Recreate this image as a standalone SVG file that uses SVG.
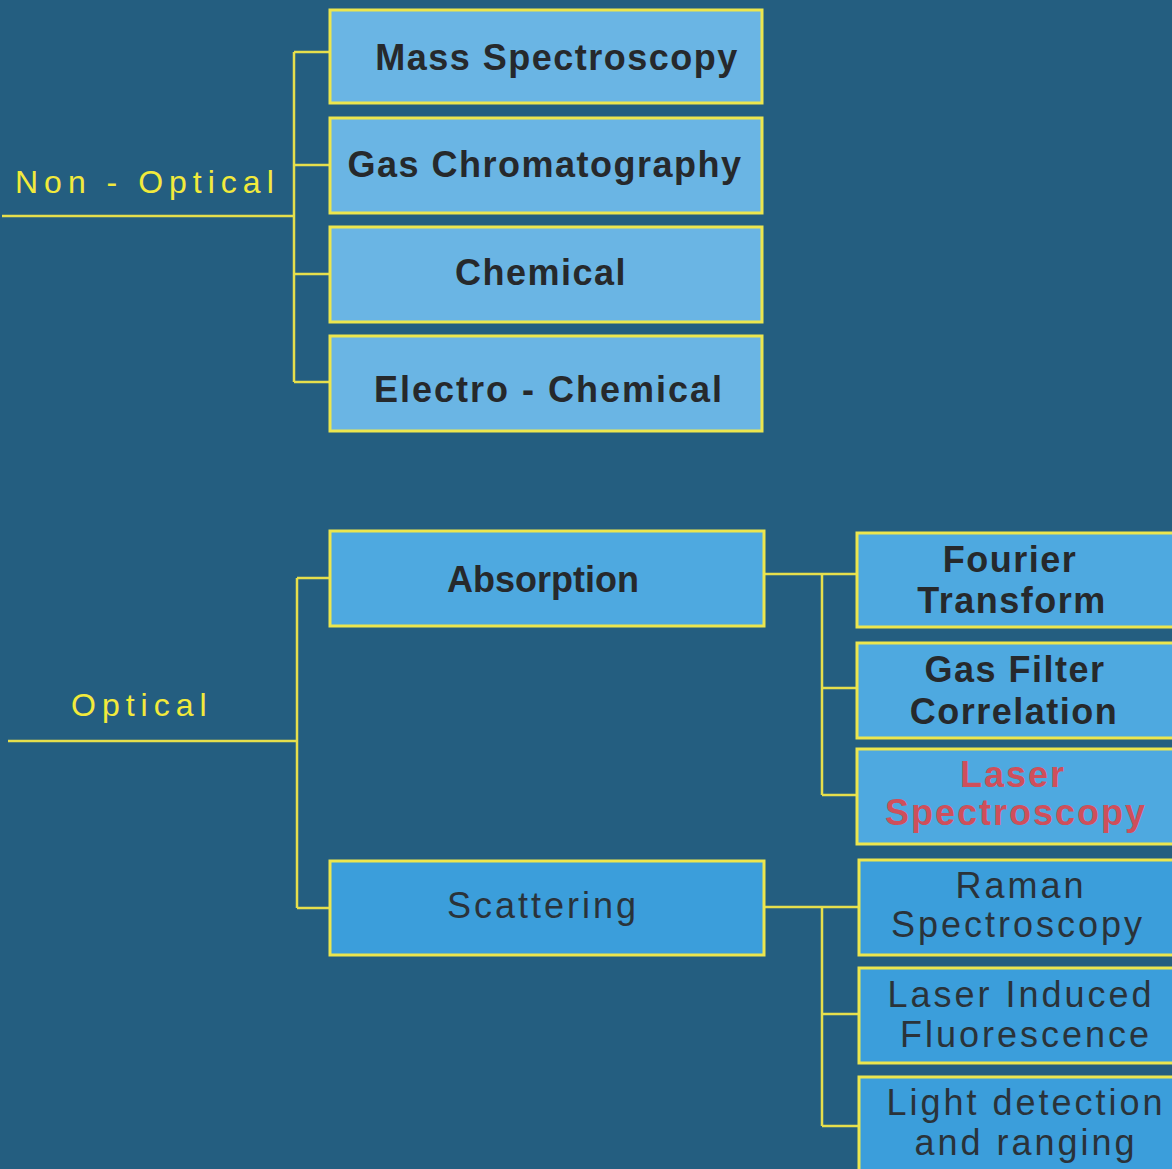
<svg xmlns="http://www.w3.org/2000/svg" width="1172" height="1169" viewBox="0 0 1172 1169">
<style>
.bg{fill:#245e80}
.box{stroke:#ece64e;stroke-width:3}
.light{fill:#6ab5e4}
.mid{fill:#4ea9e0}
.deep{fill:#3b9edb}
.con{fill:none;stroke:#e6df4c;stroke-width:2.5}
.lbl{font-family:"Liberation Sans",Arial,sans-serif;font-size:32px;fill:#f2ea3c;letter-spacing:6px}
.tb{font-family:"Liberation Sans",Arial,sans-serif;font-size:36px;font-weight:bold;fill:#26292c;text-anchor:middle}
.tr{font-family:"Liberation Sans",Arial,sans-serif;font-size:36px;fill:#2a333a;text-anchor:middle;letter-spacing:3px}
.red{fill:#cf4f5b}
</style>
<rect class="bg" x="0" y="0" width="1172" height="1169"/>
<g id="connectors">
<path class="con" d="M2 216H294M294 52V382M294 52H330M294 165H330M294 274H330M294 382H330"/>
<path class="con" d="M8 741H297M297 578V908M297 578H330M297 908H330"/>
<path class="con" d="M764 574H857M822 574V795M822 688H857M822 795H857"/>
<path class="con" d="M764 907H859M822 907V1126M822 1014H859M822 1126H859"/>
</g>
<g id="non-optical"><text class="lbl" x="15" y="193">Non - Optical</text></g>
<g id="optical"><text class="lbl" x="71" y="716">Optical</text></g>
<g id="mass-spectroscopy"><rect class="box light" x="330" y="10" width="432" height="93"/><text class="tb" x="557" y="70" letter-spacing="1.5">Mass Spectroscopy</text></g>
<g id="gas-chromatography"><rect class="box light" x="330" y="118" width="432" height="95"/><text class="tb" x="545" y="177" letter-spacing="1.5">Gas Chromatography</text></g>
<g id="chemical"><rect class="box light" x="330" y="227" width="432" height="95"/><text class="tb" x="541" y="285" letter-spacing="1.5">Chemical</text></g>
<g id="electro-chemical"><rect class="box light" x="330" y="336" width="432" height="95"/><text class="tb" x="549" y="402" letter-spacing="2">Electro - Chemical</text></g>
<g id="absorption"><rect class="box mid" x="330" y="531" width="434" height="95"/><text class="tb" x="543" y="592">Absorption</text></g>
<g id="scattering"><rect class="box deep" x="330" y="861" width="434" height="94"/><text class="tr" x="543" y="918" letter-spacing="2.5">Scattering</text></g>
<g id="fourier-transform"><rect class="box mid" x="857" y="533" width="322" height="94"/><text class="tb" x="1010" y="572" letter-spacing="1.5">Fourier</text><text class="tb" x="1012" y="613" letter-spacing="1.5">Transform</text></g>
<g id="gas-filter-correlation"><rect class="box mid" x="857" y="643" width="322" height="95"/><text class="tb" x="1015" y="682" letter-spacing="1.5">Gas Filter</text><text class="tb" x="1014" y="724" letter-spacing="1.5">Correlation</text></g>
<g id="laser-spectroscopy"><rect class="box mid" x="857" y="749" width="322" height="95"/><text class="tb red" x="1013" y="787" letter-spacing="2">Laser</text><text class="tb red" x="1016" y="825" letter-spacing="2">Spectroscopy</text></g>
<g id="raman-spectroscopy"><rect class="box deep" x="859" y="860" width="320" height="95"/><text class="tr" x="1021" y="898">Raman</text><text class="tr" x="1018" y="937">Spectroscopy</text></g>
<g id="laser-induced-fluorescence"><rect class="box deep" x="859" y="968" width="320" height="95"/><text class="tr" x="1021" y="1007">Laser Induced</text><text class="tr" x="1026" y="1047">Fluorescence</text></g>
<g id="lidar"><rect class="box deep" x="859" y="1077" width="320" height="100"/><text class="tr" x="1026" y="1115">Light detection</text><text class="tr" x="1026" y="1155">and ranging</text></g>
</svg>
